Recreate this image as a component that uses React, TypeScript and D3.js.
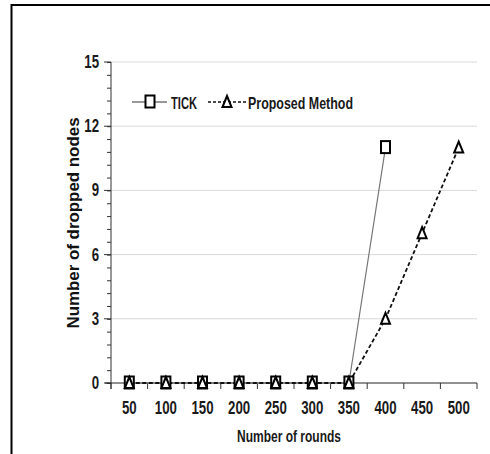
import React, { useEffect, useRef } from 'react';
import * as d3 from 'd3';

const rounds = ['50', '100', '150', '200', '250', '300', '350', '400', '450', '500'];
const tickValues = [0, 0, 0, 0, 0, 0, 0, 11];
const proposedValues = [0, 0, 0, 0, 0, 0, 0, 3, 7, 11];
const yTicks = [0, 3, 6, 9, 12, 15];

const FONT = '"Liberation Sans", Arial, sans-serif';

const App = () => {
    const ref = useRef<SVGSVGElement>(null);

    useEffect(() => {
        const svg = d3.select(ref.current);
        svg.selectAll('*').remove();

        const width = 490;
        const height = 454;
        const left = 111, right = 477, top = 62, bottom = 383;

        const x = d3.scaleBand().domain(rounds).range([left, right]);
        const y = d3.scaleLinear().domain([0, 15]).range([bottom, top]);
        const cx = (r: string) => (x(r) as number) + x.bandwidth() / 2;

        // condensed looking label: squeeze horizontally
        const label = (g: any, px: number, py: number, txt: string, anchor: string) => g.append('text')
            .attr('transform', `translate(${px},${py}) scale(0.78,1.1)`)
            .attr('text-anchor', anchor)
            .style('font-family', FONT)
            .style('font-weight', 'bold')
            .style('font-size', '17px')
            .style('fill', '#1a1a1a')
            .text(txt);

        // frame
        svg.append('path')
            .attr('d', `M11.5,${height} V5 H${width}`)
            .attr('fill', 'none')
            .attr('stroke', '#000')
            .attr('stroke-width', 2);

        // gridlines
        svg.append('g')
            .selectAll('line')
            .data(yTicks.filter(d => d > 0))
            .join('line')
            .attr('x1', left)
            .attr('x2', right)
            .attr('y1', d => y(d))
            .attr('y2', d => y(d))
            .attr('stroke', '#d9d9d9')
            .attr('stroke-width', 1);

        // y axis with minor ticks
        const yAxis = svg.append('g').attr('transform', `translate(${left},0)`);
        yAxis.call(d3.axisLeft(y).tickValues(d3.range(0, 15.01, 0.6)).tickSize(4).tickFormat(() => ''))
            .call(g => g.select('.domain').remove());
        yAxis.selectAll('line').attr('stroke', '#333');
        yAxis.append('line')
            .attr('y1', top).attr('y2', bottom + 6)
            .attr('stroke', '#333');
        yTicks.forEach(d => label(yAxis, -12, y(d) + 6, String(d), 'end'));
        yAxis.selectAll('line.maj')
            .data(yTicks)
            .join('line')
            .attr('class', 'maj')
            .attr('x1', -7).attr('x2', 0)
            .attr('y1', d => y(d)).attr('y2', d => y(d))
            .attr('stroke', '#333');

        // x axis
        const xAxis = svg.append('g').attr('transform', `translate(0,${bottom})`);
        xAxis.append('line')
            .attr('x1', left - 6).attr('x2', right)
            .attr('stroke', '#222');
        xAxis.selectAll('line.tk')
            .data(d3.range(rounds.length + 1))
            .join('line')
            .attr('class', 'tk')
            .attr('x1', i => left + i * x.step())
            .attr('x2', i => left + i * x.step())
            .attr('y1', 0).attr('y2', 6)
            .attr('stroke', '#333');
        rounds.forEach(r => label(xAxis, cx(r), 31, r, 'middle'));

        // axis titles
        svg.append('text')
            .attr('x', 237)
            .attr('y', 442)
            .attr('textLength', 104)
            .attr('lengthAdjust', 'spacingAndGlyphs')
            .style('font-family', FONT)
            .style('font-weight', 'bold')
            .style('font-size', '17px')
            .style('fill', '#1a1a1a')
            .text('Number of rounds');

        svg.append('text')
            .attr('transform', 'translate(79,223) rotate(-90)')
            .attr('text-anchor', 'middle')
            .attr('textLength', 211)
            .attr('lengthAdjust', 'spacingAndGlyphs')
            .style('font-family', FONT)
            .style('font-weight', 'bold')
            .style('font-size', '16px')
            .style('fill', '#111')
            .text('Number of dropped nodes');

        const line = d3.line<number>()
            .x((_, i) => cx(rounds[i]))
            .y(d => y(d));

        // TICK series
        svg.append('path')
            .datum(tickValues)
            .attr('d', line)
            .attr('fill', 'none')
            .attr('stroke', '#777')
            .attr('stroke-width', 1.2);

        // Proposed series
        svg.append('path')
            .datum(proposedValues)
            .attr('d', line)
            .attr('fill', 'none')
            .attr('stroke', '#111')
            .attr('stroke-width', 1.8)
            .attr('stroke-dasharray', '4,2.5');

        const square = (g: any, px: number, py: number) => g.append('rect')
            .attr('x', px - 4.5).attr('y', py - 6.5)
            .attr('width', 9).attr('height', 12)
            .attr('fill', '#fff')
            .attr('stroke', '#000')
            .attr('stroke-width', 2);
        const triangle = (g: any, px: number, py: number) => g.append('path')
            .attr('d', `M${px},${py - 6} L${px + 4.5},${py + 5} L${px - 4.5},${py + 5} Z`)
            .attr('fill', '#fff')
            .attr('stroke', '#000')
            .attr('stroke-width', 2);

        const marks = svg.append('g');
        tickValues.forEach((v, i) => square(marks, cx(rounds[i]), y(v)));
        proposedValues.forEach((v, i) => triangle(marks, cx(rounds[i]), y(v)));

        // legend
        const lg = svg.append('g').attr('transform', 'translate(0,102)');
        lg.append('line').attr('x1', 132).attr('x2', 167).attr('stroke', '#333').attr('stroke-width', 1.2);
        square(lg, 150, 0);
        lg.append('text')
            .attr('x', 171).attr('y', 6.5)
            .attr('textLength', 26)
            .attr('lengthAdjust', 'spacingAndGlyphs')
            .style('font-family', FONT).style('font-weight', 'bold').style('font-size', '17px')
            .style('fill', '#1a1a1a')
            .text('TICK');
        lg.append('line').attr('x1', 208).attr('x2', 246)
            .attr('stroke', '#111').attr('stroke-width', 1.5).attr('stroke-dasharray', '3,2');
        triangle(lg, 227, 0);
        lg.append('text')
            .attr('x', 248).attr('y', 6.5)
            .attr('textLength', 105)
            .attr('lengthAdjust', 'spacingAndGlyphs')
            .style('font-family', FONT).style('font-weight', 'bold').style('font-size', '17px')
            .style('fill', '#1a1a1a')
            .text('Proposed Method');
    }, []);

    return (
        <svg ref={ref} width={490} height={454}
            style={{ position: 'absolute', left: 0, top: 0, background: '#fff' }} />
    );
};

export default App;
